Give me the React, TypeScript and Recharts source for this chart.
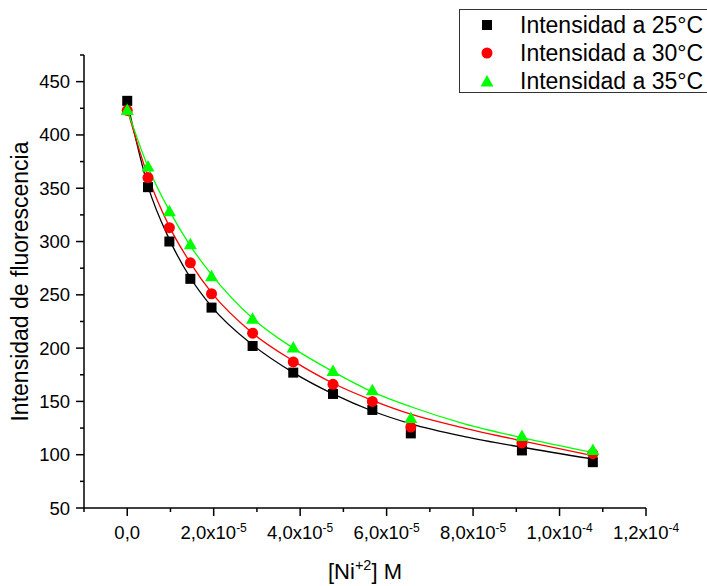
import { ComposedChart, Label, Line, Scatter, XAxis, YAxis } from 'recharts'

// [Ni+2] concentrations (M) of the measured points
const concentration = [0, 4.8e-6, 9.75e-6, 1.46e-5, 1.95e-5, 2.9e-5, 3.84e-5, 4.76e-5, 5.67e-5, 6.56e-5, 9.13e-5, 1.077e-4]
const intensity25 = [432, 351, 300, 265, 238, 202, 177, 157, 142, 120, 104, 93]
const intensity30 = [423, 360, 313, 280, 251, 214, 187, 166, 150, 126, 111, 101]
const intensity35 = [423, 370, 328, 297, 267, 227, 200, 178, 160, 134, 117, 104]

// fitted curves
const fitConcentration = [0, 4.8e-6, 9.75e-6, 1.46e-5, 1.95e-5, 2.9e-5, 3.84e-5, 4.76e-5, 5.67e-5, 6.56e-5, 7.8e-5, 9.13e-5, 1.077e-4]
const fit25 = [431, 352, 302, 266, 239, 203, 177, 157, 141, 129, 117, 107, 96]
const fit30 = [424, 361, 314, 280, 252, 214, 188, 167, 151, 138, 125, 113, 99]
const fit35 = [424, 370, 329, 296, 269, 228, 200, 178, 159, 145, 129, 116, 102]

const xTicks = [-1e-5, 0, 1e-5, 2e-5, 3e-5, 4e-5, 5e-5, 6e-5, 7e-5, 8e-5, 9e-5, 1e-4, 1.1e-4, 1.2e-4]
const xTickLabels = ['', '0,0', '', '2,0x10', '', '4,0x10', '', '6,0x10', '', '8,0x10', '', '1,0x10', '', '1,2x10']
const xTickExponents = ['', '', '', '-5', '', '-5', '', '-5', '', '-5', '', '-4', '', '-4']

const yTicks = [50, 75, 100, 125, 150, 175, 200, 225, 250, 275, 300, 325, 350, 375, 400, 425, 450, 475]
const yTickLabels = ['50', '', '100', '', '150', '', '200', '', '250', '', '300', '', '350', '', '400', '', '450', '']

const seriesNames = ['Intensidad a 25°C', 'Intensidad a 30°C', 'Intensidad a 35°C']

const FONT = '"Liberation Sans", Arial, sans-serif'
const COLORS = ['#000000', '#ff0000', '#00ff00']

const toPoints = (xs: number[], ys: number[]) => xs.map((x, i) => ({ x, y: ys[i] }))

const SquareDot = ({ cx, cy }: any) => <rect x={cx - 5} y={cy - 5} width={10} height={10} fill={COLORS[0]} />
const CircleDot = ({ cx, cy }: any) => <circle cx={cx} cy={cy} r={5.5} fill={COLORS[1]} />
const TriangleDot = ({ cx, cy }: any) => (
  <polygon points={`${cx},${cy - 7} ${cx - 6.5},${cy + 4.5} ${cx + 6.5},${cy + 4.5}`} fill={COLORS[2]} />
)
const shapes = [SquareDot, CircleDot, TriangleDot]

function XTick({ x, y, payload }: any) {
  const i = xTicks.indexOf(payload.value)
  const major = xTickLabels[i] !== ''
  return (
    <g>
      <line x1={x} x2={x} y1={y} y2={y + (major ? 8 : 4)} stroke="#000" strokeWidth={1.5} />
      {major && (
        <text x={x} y={y + 31} textAnchor="middle" fontSize={18.5} fontFamily={FONT} fill="#000">
          {xTickLabels[i]}
          {xTickExponents[i] && (
            <tspan dy={-7.5} fontSize={12}>
              {xTickExponents[i]}
            </tspan>
          )}
        </text>
      )}
    </g>
  )
}

function YTick({ x, y, payload }: any) {
  const i = yTicks.indexOf(payload.value)
  const major = yTickLabels[i] !== ''
  return (
    <g>
      <line x1={x - (major ? 8 : 4)} x2={x} y1={y} y2={y} stroke="#000" strokeWidth={1.5} />
      {major && (
        <text x={x - 14} y={y + 6.5} textAnchor="end" fontSize={18.5} fontFamily={FONT} fill="#000">
          {yTickLabels[i]}
        </text>
      )}
    </g>
  )
}

function LegendBox() {
  return (
    <div
      style={{
        position: 'absolute',
        left: 459,
        top: 9,
        width: 260,
        height: 84,
        border: '1.5px solid #333',
        boxSizing: 'border-box',
        background: '#fff',
        fontFamily: FONT,
        fontSize: 23,
        color: '#000',
      }}
    >
      {seriesNames.map((name, i) => {
        const Shape = shapes[i]
        return (
          <div key={name} style={{ position: 'absolute', left: 0, top: 1 + i * 28, height: 28, width: 260 }}>
            <svg width={20} height={20} style={{ position: 'absolute', left: 17, top: 4 }}>
              <Shape cx={10} cy={i === 2 ? 11 : 10} />
            </svg>
            <span style={{ position: 'absolute', left: 60, top: 0, lineHeight: '28px', whiteSpace: 'nowrap' }}>{name}</span>
          </div>
        )
      })}
    </div>
  )
}

export default function App() {
  const series = [
    { name: seriesNames[0], points: toPoints(concentration, intensity25), fit: toPoints(fitConcentration, fit25) },
    { name: seriesNames[1], points: toPoints(concentration, intensity30), fit: toPoints(fitConcentration, fit30) },
    { name: seriesNames[2], points: toPoints(concentration, intensity35), fit: toPoints(fitConcentration, fit35) },
  ]

  return (
    <div style={{ position: 'absolute', left: 0, top: 0, width: 707, height: 586, overflow: 'hidden', background: '#fff' }}>
      <ComposedChart width={707} height={586} margin={{ top: 55, right: 61, bottom: 48, left: 44 }}>
        <XAxis
          type="number"
          dataKey="x"
          domain={[-1e-5, 1.2e-4]}
          ticks={xTicks}
          interval={0}
          allowDataOverflow
          height={30}
          tickSize={0}
          tickMargin={0}
          tickLine={false}
          tick={<XTick />}
          axisLine={{ stroke: '#000', strokeWidth: 1.5 }}
        >
          <Label
            content={({ viewBox }: any) => (
              <text x={viewBox.x + viewBox.width / 2} y={579} textAnchor="middle" fontSize={22} fontFamily={FONT} fill="#000">
                [Ni
                <tspan dy={-9} fontSize={14.5}>
                  +2
                </tspan>
                <tspan dy={9}>] M</tspan>
              </text>
            )}
          />
        </XAxis>
        <YAxis
          type="number"
          dataKey="y"
          domain={[50, 475]}
          ticks={yTicks}
          interval={0}
          allowDataOverflow
          width={40}
          tickSize={0}
          tickMargin={0}
          tickLine={false}
          tick={<YTick />}
          axisLine={{ stroke: '#000', strokeWidth: 1.5 }}
        >
          <Label
            content={({ viewBox }: any) => {
              const cy = viewBox.y + viewBox.height / 2
              return (
                <text
                  x={28}
                  y={cy}
                  transform={`rotate(-90 28 ${cy})`}
                  textAnchor="middle"
                  fontSize={23}
                  fontFamily={FONT}
                  fill="#000"
                >
                  Intensidad de fluorescencia
                </text>
              )
            }}
          />
        </YAxis>
        {series.map((s, i) => (
          <Scatter
            key={`pts-${i}`}
            name={s.name}
            data={s.points}
            dataKey="y"
            fill={COLORS[i]}
            shape={shapes[i]}
            isAnimationActive={false}
          />
        ))}
        {series.map((s, i) => (
          <Line
            key={`fit-${i}`}
            data={s.fit}
            dataKey="y"
            type="monotone"
            stroke={COLORS[i]}
            strokeWidth={1.3}
            dot={false}
            activeDot={false}
            isAnimationActive={false}
          />
        ))}
      </ComposedChart>
      <LegendBox />
    </div>
  )
}
